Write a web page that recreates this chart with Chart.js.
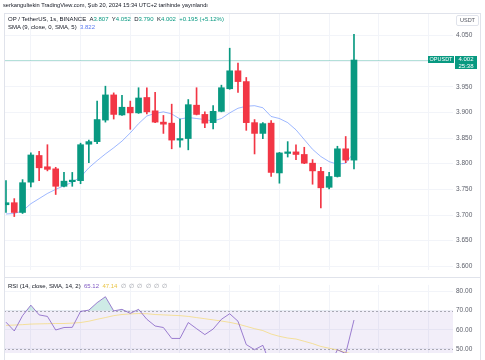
<!DOCTYPE html>
<html><head><meta charset="utf-8">
<script src="https://cdn.jsdelivr.net/npm/chart.js@4.4.1/dist/chart.umd.min.js"></script>
<style>
html,body{margin:0;padding:0;background:#fff;width:485px;height:360px;overflow:hidden;font-family:"Liberation Sans",Arial,sans-serif;}
canvas{position:absolute;left:0;}
#main{top:0;}
#rsi{top:278px;}
.t{position:absolute;white-space:nowrap;color:#131722;line-height:1;}
.ln{position:absolute;background:#E0E3EB;}
.g{color:#089981;}
.b{color:#5B7BF0;}
.p{color:#7E57C2;}
.y{color:#E9C446;}
.n{color:#9598A1;}
</style></head>
<body>
<canvas id="main" width="485" height="277"></canvas>
<canvas id="rsi" width="485" height="82"></canvas>
<div class="ln" style="left:4px;top:13px;width:477px;height:1px;"></div>
<div class="ln" style="left:4px;top:13px;width:1px;height:347px;"></div>
<div class="ln" style="left:480px;top:13px;width:1px;height:347px;"></div>
<div class="ln" style="left:4px;top:277px;width:477px;height:1px;"></div>
<div class="t" style="left:3px;top:3px;font-size:5.7px;">serkangultekin TradingView.com, Şub 20, 2024 15:34 UTC+2 tarihinde yayınlandı</div>
<div class="t" id="leg1" style="left:8px;top:16px;font-size:6px;"></div>
<div class="t" id="leg2" style="left:8px;top:24px;font-size:6px;"></div>
<div class="t" id="leg3" style="left:8px;top:283px;font-size:6px;"></div>
<div class="t" style="left:456px;top:15px;width:21px;height:9px;border:1px solid #E0E3EB;border-radius:2px;font-size:5.5px;color:#50535E;text-align:center;line-height:9px;">USDT</div>
<script>
// ---- data ----
const opens  = [3.720,3.724,3.705,3.764,3.816,3.794,3.790,3.756,3.765,3.767,3.838,3.843,3.885,3.934,3.895,3.910,3.899,3.929,3.903,3.881,3.879,3.846,3.849,3.914,3.896,3.880,3.902,3.946,3.981,3.960,3.880,3.859,3.879,3.782,3.820,3.823,3.818,3.801,3.785,3.754,3.775,3.829,3.807];
const highs  = [3.767,3.732,3.769,3.821,3.824,3.837,3.793,3.783,3.783,3.840,3.846,3.922,3.951,3.938,3.933,3.922,3.948,3.948,3.939,3.894,3.916,3.887,3.925,3.948,3.901,3.913,3.953,4.025,3.996,3.968,3.886,3.880,3.884,3.822,3.843,3.837,3.832,3.808,3.793,3.783,3.834,3.853,4.052];
const lows   = [3.705,3.697,3.703,3.755,3.767,3.786,3.740,3.755,3.756,3.761,3.802,3.839,3.881,3.887,3.894,3.867,3.898,3.897,3.880,3.859,3.829,3.832,3.827,3.895,3.870,3.868,3.901,3.945,3.939,3.865,3.819,3.849,3.775,3.762,3.813,3.808,3.800,3.760,3.714,3.751,3.774,3.802,3.790];
const closes = [3.724,3.705,3.763,3.817,3.792,3.789,3.756,3.766,3.768,3.837,3.843,3.886,3.934,3.896,3.910,3.899,3.928,3.901,3.881,3.877,3.846,3.849,3.915,3.896,3.879,3.902,3.948,3.981,3.960,3.880,3.859,3.878,3.783,3.821,3.823,3.818,3.801,3.786,3.753,3.775,3.829,3.807,4.002];
const smaValues = [3.702,3.703,3.708,3.722,3.732,3.742,3.750,3.757,3.764,3.774,3.792,3.806,3.819,3.831,3.844,3.860,3.878,3.893,3.898,3.901,3.897,3.887,3.890,3.888,3.886,3.883,3.888,3.899,3.908,3.912,3.913,3.909,3.892,3.888,3.880,3.866,3.847,3.828,3.814,3.804,3.799,3.801,3.822];
const rsiValues = [64.0,59.4,67.4,72.9,67.8,67.0,59.9,61.2,61.3,69.6,70.3,74.2,77.3,69.9,70.7,68.6,70.7,65.5,62.0,61.2,55.5,55.5,63.8,60.6,57.5,60.4,65.5,68.4,64.5,52.3,49.6,51.9,41.0,46.0,46.3,45.8,43.5,41.5,37.5,40.5,49.6,47.6,65.12];
const rsiMaValues = [62.3,62.5,62.7,63.0,63.1,63.2,63.3,63.3,63.5,63.8,64.5,65.5,66.4,67.4,68.0,68.3,68.5,68.4,68.0,67.8,67.6,67.4,67.0,66.4,65.8,65.2,64.6,63.9,63.0,61.8,60.6,59.6,57.8,56.6,55.7,55.2,54.0,52.8,51.3,50.4,49.4,48.2,47.14];
const priceTicks = [3.600,3.650,3.700,3.750,3.800,3.850,3.900,3.950,4.000,4.050];
const rsiTicks = [50,60,70,80];
const gridCandles = [3,9,15,21,27,33,39,45,51];
const rsiBandLines = [70,50,30];
const rsiBandFill = [70,30];
const symbolText = 'OP / TetherUS, 1s, BINANCE';
const countdown = '25:38';

// ---- styles ----
const GREEN = '#089981', RED = '#F23645';
const FONT = '"Liberation Sans", Arial, sans-serif';
const GRID = '#F2F4F9';
const X_MIN = -0.24, X_MAX = 53.95;

const idx = closes.map((_, i) => i);
const candleColors = closes.map((c, i) => c >= opens[i] ? GREEN : RED);
const last = closes.length - 1;

// legends
const chg = closes[last] - closes[last - 1];
const pct = chg / closes[last - 1] * 100;
document.getElementById('leg1').innerHTML =
  symbolText + '&nbsp;&nbsp;A<span class="g">' + opens[last].toFixed(3) + '</span>&nbsp;&nbsp;Y<span class="g">' +
  highs[last].toFixed(3) + '</span>&nbsp;&nbsp;D<span class="g">' + lows[last].toFixed(3) + '</span>&nbsp;&nbsp;K<span class="g">' +
  closes[last].toFixed(3) + '</span>&nbsp;&nbsp;<span class="g">+' + chg.toFixed(3) + ' (+' + pct.toFixed(2) + '%)</span>';
document.getElementById('leg2').innerHTML = 'SMA (9, close, 0, SMA, 5)&nbsp;&nbsp;<span class="b">' + smaValues[last].toFixed(3) + '</span>';
document.getElementById('leg3').innerHTML = 'RSI (14, close, SMA, 14, 2)&nbsp;&nbsp;<span class="p">' + rsiValues[last].toFixed(2) +
  '</span>&nbsp;&nbsp;<span class="y">' + rsiMaValues[last].toFixed(2) + '</span>&nbsp;&nbsp;<span class="n">∅&nbsp;&nbsp;∅&nbsp;&nbsp;∅&nbsp;&nbsp;∅&nbsp;&nbsp;∅&nbsp;&nbsp;∅</span>';

const xScale = {
  type: 'linear', min: X_MIN, max: X_MAX, offset: false,
  grid: { color: GRID, drawTicks: false, offset: false },
  border: { display: false },
  ticks: { display: false },
  afterBuildTicks: s => { s.ticks = gridCandles.map(v => ({ value: v })); }
};

const lastPricePlugin = {
  id: 'lastPrice',
  beforeDatasetsDraw(chart) {
    const { ctx, chartArea, scales: { y } } = chart;
    const py = Math.round(y.getPixelForValue(closes[last])) + 0.5;
    ctx.save();
    ctx.strokeStyle = 'rgba(8,153,129,0.3)';
    ctx.lineWidth = 1;
    ctx.beginPath(); ctx.moveTo(chartArea.left, py); ctx.lineTo(chartArea.right, py); ctx.stroke();
    ctx.restore();
  },
  afterDraw(chart) {
    const { ctx, chartArea, scales: { y } } = chart;
    const py = y.getPixelForValue(closes[last]);
    const top = Math.round(py - 4);
    ctx.save();
    ctx.fillStyle = GREEN;
    ctx.fillRect(chartArea.right - 25, top, 26, 7);
    ctx.fillRect(chartArea.right + 2, top, 22, 13);
    ctx.fillStyle = '#fff';
    ctx.font = '5.5px ' + FONT;
    ctx.textAlign = 'center';
    ctx.textBaseline = 'middle';
    ctx.fillText('OPUSDT', chartArea.right - 12, top + 3.8);
    ctx.font = '6px ' + FONT;
    ctx.fillText(closes[last].toFixed(3), chartArea.right + 13, top + 3.8);
    ctx.fillText(countdown, chartArea.right + 13, top + 10);
    ctx.restore();
  }
};

new Chart(document.getElementById('main'), {
  type: 'bar',
  data: {
    datasets: [
      { type: 'bar', label: 'body', data: idx.map(i => ({ x: i, y: [opens[i], closes[i]] })),
        backgroundColor: candleColors, barThickness: 6, grouped: false, order: 1 },
      { type: 'bar', label: 'wick', data: idx.map(i => ({ x: i, y: [lows[i], highs[i]] })),
        backgroundColor: candleColors, barThickness: 1, grouped: false, order: 2 },
      { type: 'line', label: 'SMA', data: idx.map(i => ({ x: i, y: smaValues[i] })),
        borderColor: 'rgba(41,98,255,0.45)', borderWidth: 1, pointRadius: 0, tension: 0, order: 3 }
    ]
  },
  options: {
    responsive: false, animation: false, events: [],
    layout: { padding: { left: 4, top: 13, right: 0, bottom: 0 }, autoPadding: false },
    plugins: { legend: { display: false }, tooltip: { enabled: false } },
    scales: {
      x: xScale,
      y: {
        type: 'linear', position: 'right', min: 3.5927, max: 4.0936,
        grid: { color: GRID, drawTicks: false },
        border: { display: false },
        ticks: { padding: 3, font: { family: FONT, size: 6.5 }, color: '#5D606B', callback: v => Number(v).toFixed(3) },
        afterBuildTicks: s => { s.ticks = priceTicks.map(v => ({ value: v })); },
        afterFit: s => { s.width = 32; }
      }
    }
  },
  plugins: [lastPricePlugin]
});

const rsiBandPlugin = {
  id: 'rsiBand',
  beforeDatasetsDraw(chart) {
    const { ctx, chartArea, scales: { y } } = chart;
    ctx.save();
    ctx.beginPath();
    ctx.rect(chartArea.left, chartArea.top, chartArea.right - chartArea.left, chartArea.bottom - chartArea.top);
    ctx.clip();
    const y1 = y.getPixelForValue(rsiBandFill[0]), y2 = y.getPixelForValue(rsiBandFill[1]);
    ctx.fillStyle = 'rgba(126,87,194,0.1)';
    ctx.fillRect(chartArea.left, y1, chartArea.right - chartArea.left, y2 - y1);
    ctx.strokeStyle = 'rgba(120,123,134,0.6)';
    ctx.lineWidth = 1;
    ctx.setLineDash([2, 2]);
    rsiBandLines.forEach(v => {
      const py = Math.round(y.getPixelForValue(v)) + 0.5;
      ctx.beginPath(); ctx.moveTo(chartArea.left, py); ctx.lineTo(chartArea.right, py); ctx.stroke();
    });
    ctx.restore();
  }
};

new Chart(document.getElementById('rsi'), {
  type: 'line',
  data: {
    datasets: [
      { label: 'RSI', data: idx.map(i => ({ x: i, y: rsiValues[i] })), borderColor: 'rgba(126,87,194,0.75)', borderWidth: 1,
        pointRadius: 0, tension: 0, order: 1,
        fill: { target: { value: 70 }, above: 'rgba(8,153,129,0.2)', below: 'rgba(0,0,0,0)' } },
      { label: 'RSI MA', data: idx.map(i => ({ x: i, y: rsiMaValues[i] })), borderColor: 'rgba(245,214,92,0.6)', borderWidth: 1,
        pointRadius: 0, tension: 0, order: 2, fill: false }
    ]
  },
  options: {
    responsive: false, animation: false, events: [],
    layout: { padding: { left: 4, top: 0, right: 0, bottom: 0 }, autoPadding: false },
    plugins: { legend: { display: false }, tooltip: { enabled: false } },
    scales: {
      x: xScale,
      y: {
        type: 'linear', position: 'right', min: 47.83, max: 83.48,
        grid: { color: GRID, drawTicks: false },
        border: { display: false },
        ticks: { padding: 3, font: { family: FONT, size: 6.5 }, color: '#5D606B', callback: v => Number(v).toFixed(2) },
        afterBuildTicks: s => { s.ticks = rsiTicks.map(v => ({ value: v })); },
        afterFit: s => { s.width = 32; }
      }
    }
  },
  plugins: [rsiBandPlugin]
});
</script>
</body></html>
